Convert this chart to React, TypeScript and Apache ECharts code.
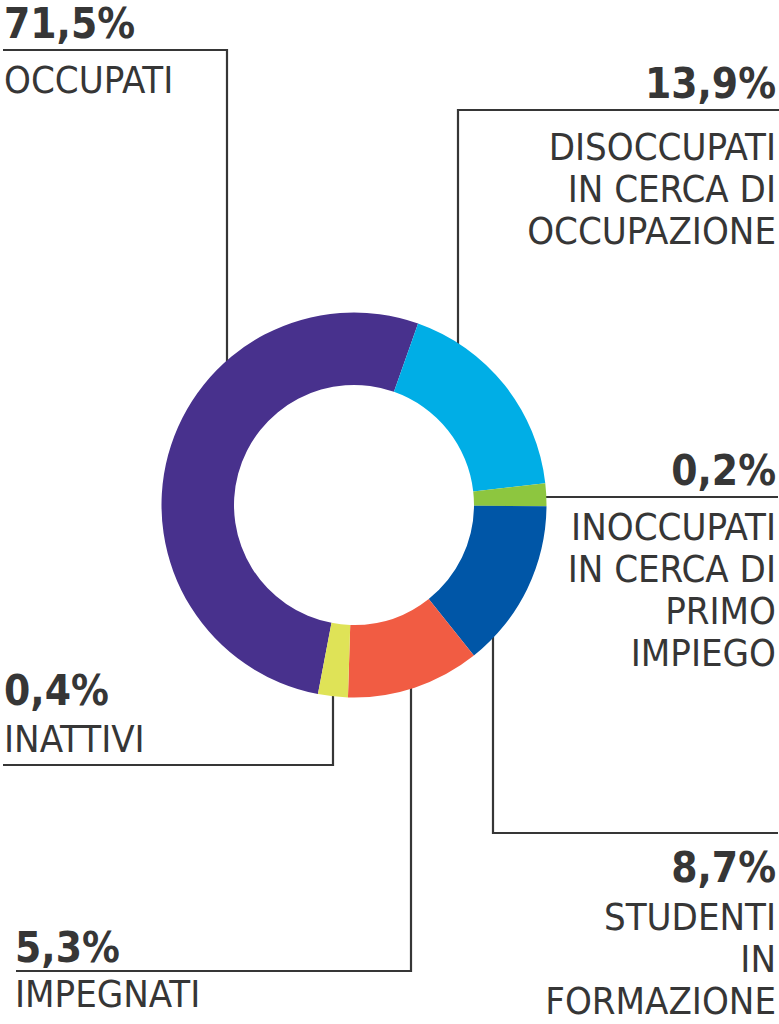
import React, { useEffect, useRef } from "react";
import * as echarts from "echarts";

// ---- data ----
const categories = ["OCCUPATI", "DISOCCUPATI", "INOCCUPATI", "STUDENTI", "IMPEGNATI", "INATTIVI"];
const percentLabels = ["71,5%", "13,9%", "0,2%", "8,7%", "5,3%", "0,4%"];
const categoryLines = [
  ["OCCUPATI"],
  ["DISOCCUPATI", "IN CERCA DI", "OCCUPAZIONE"],
  ["INOCCUPATI", "IN CERCA DI", "PRIMO", "IMPIEGO"],
  ["STUDENTI", "IN", "FORMAZIONE"],
  ["IMPEGNATI"],
  ["INATTIVI"],
];
// share of the ring as drawn in the picture (%)
const drawnShares = [52.4, 17.8, 1.9, 14.2, 11.2, 2.5];
const colors = ["#48318D", "#00AEE6", "#8DC63F", "#0056A7", "#F15C43", "#DFE357"];

// ---- layout ----
const W = 779;
const H = 1024;
const CX = 354;
const CY = 505;
const R_OUT = 192.5;
const R_IN = 120;
const START_ANGLE = -100.8;
const FONT = "'DejaVu Sans Condensed', 'DejaVu Sans', sans-serif";
const INK = "#363636";
const PCT_SIZE = 42;
const CAT_SIZE = 38;

type Lay = {
  align: "left" | "right";
  x: number;
  pctBase: number;
  catBase: number;
  lineX: number;
  lineY: number;
  endX: number;
  side: "up" | "down" | "flat";
};

const layout: Lay[] = [
  { align: "left", x: 4, pctBase: 38, catBase: 93, lineX: 227, lineY: 50, endX: 3, side: "up" },
  { align: "right", x: 776, pctBase: 98, catBase: 160, lineX: 458, lineY: 110, endX: 779, side: "up" },
  { align: "right", x: 776, pctBase: 485, catBase: 540, lineX: 0, lineY: 497, endX: 778, side: "flat" },
  { align: "right", x: 776, pctBase: 882, catBase: 930, lineX: 493, lineY: 833, endX: 778, side: "down" },
  { align: "left", x: 15, pctBase: 962, catBase: 1007, lineX: 411, lineY: 971, endX: 16, side: "down" },
  { align: "left", x: 4, pctBase: 705, catBase: 752, lineX: 333, lineY: 765, endX: 3, side: "down" },
];
const LINE_GAP = 42;

function edgeY(x: number, side: "up" | "down") {
  const dx = x - CX;
  const dy = Math.sqrt(Math.max(0, R_OUT * R_OUT - dx * dx));
  return side === "up" ? CY - dy + 2 : CY + dy - 2;
}

export default function App() {
  const ref = useRef<HTMLDivElement>(null);
  useEffect(() => {
    if (!ref.current) return;
    const chart = echarts.init(ref.current, undefined, { renderer: "svg" });
    const graphics: any[] = [];
    layout.forEach((l, i) => {
      let pts: number[][];
      if (l.side === "flat") {
        pts = [
          [CX + R_OUT - 2, l.lineY],
          [l.endX, l.lineY],
        ];
      } else {
        pts = [
          [l.lineX, edgeY(l.lineX, l.side)],
          [l.lineX, l.lineY],
          [l.endX, l.lineY],
        ];
      }
      graphics.push({
        type: "polyline",
        z: 0,
        shape: { points: pts },
        style: { stroke: INK, lineWidth: 2.2, fill: null },
        silent: true,
      });
      graphics.push({
        type: "text",
        z: 10,
        x: l.x,
        y: l.pctBase - 15,
        style: {
          text: percentLabels[i],
          font: `bold ${PCT_SIZE}px ${FONT}`,
          lineHeight: 32,
          fill: INK,
          textAlign: l.align,
          textVerticalAlign: "middle",
        },
        silent: true,
      });
      categoryLines[i].forEach((t, j) => {
        graphics.push({
          type: "text",
          z: 10,
          x: l.x,
          y: l.catBase + j * LINE_GAP - 13,
          style: {
            text: t,
            font: `${CAT_SIZE}px ${FONT}`,
            lineHeight: 26,
            fill: INK,
            textAlign: l.align,
            textVerticalAlign: "middle",
          },
          silent: true,
        });
      });
    });

    chart.setOption({
      animation: false,
      backgroundColor: "#ffffff",
      graphic: { elements: graphics },
      series: [
        {
          type: "pie",
          z: 5,
          center: [CX, CY],
          radius: [R_IN, R_OUT],
          startAngle: START_ANGLE,
          clockwise: true,
          silent: true,
          avoidLabelOverlap: false,
          label: { show: false },
          labelLine: { show: false },
          itemStyle: { borderWidth: 0 },
          emphasis: { disabled: true },
          data: categories.map((c, i) => ({
            name: c,
            value: drawnShares[i],
            itemStyle: { color: colors[i] },
          })),
        },
      ],
    });
    return () => chart.dispose();
  }, []);
  return (
    <div
      ref={ref}
      style={{ position: "absolute", left: 0, top: 0, width: W, height: H, background: "#fff" }}
    />
  );
}
